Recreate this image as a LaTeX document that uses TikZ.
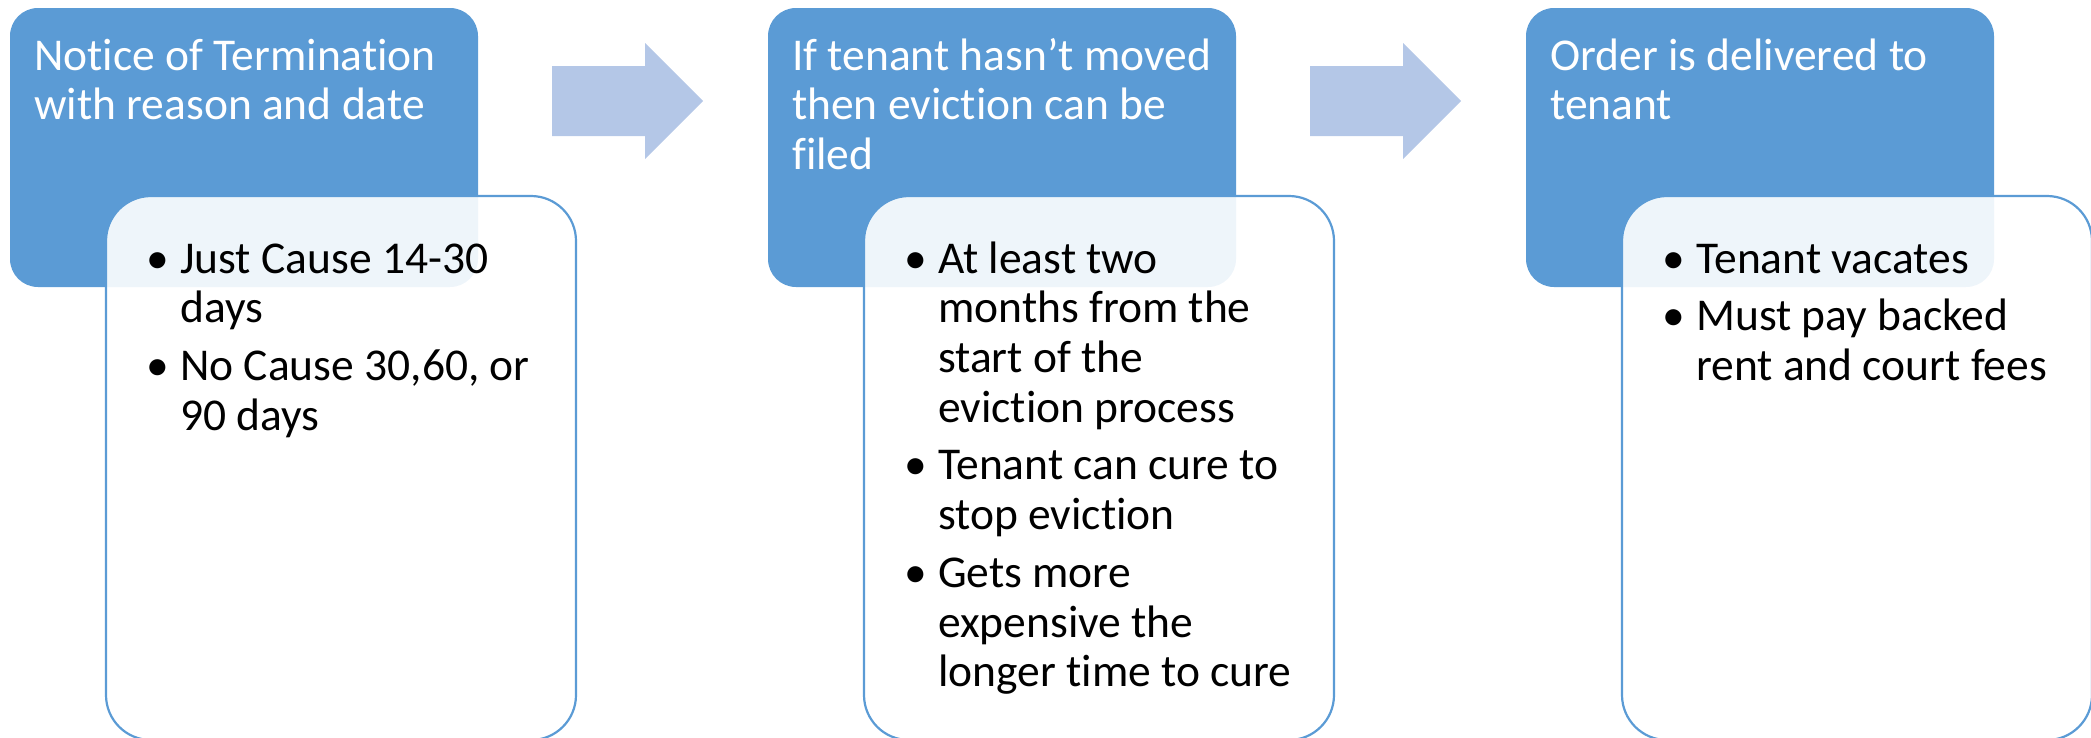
\documentclass[tikz,border=0pt]{standalone}
\usepackage{fontspec}
\setmainfont{Carlito}[Ligatures={NoCommon}]
\definecolor{accblue}{HTML}{5B9BD5}
\definecolor{arrowblue}{HTML}{B4C7E7}
\begin{document}
\begin{tikzpicture}[x=1pt,y=-1pt,
  titlebox/.style={fill=accblue, draw=none, rounded corners=28pt, anchor=north west,
    minimum width=468pt, minimum height=279pt, inner sep=0pt, outer sep=0pt},
  listbox/.style={fill=white, fill opacity=0.9, draw=accblue, draw opacity=1, line width=2.2pt,
    rounded corners=45pt, anchor=north west, minimum width=470pt, minimum height=544pt,
    inner sep=0pt, outer sep=0pt},
  blockarrow/.style={fill=arrowblue, draw=none},
  ttl/.style={anchor=base west, inner sep=0pt, text=white, font=\fontsize{45.5}{49.8}\selectfont},
  itm/.style={anchor=base west, inner sep=0pt, text=black, font=\fontsize{45.5}{49.8}\selectfont},
  bul/.style={anchor=base west, inner sep=0pt, text=black, font=\fontsize{45.5}{49.8}\selectfont},
]
\useasboundingbox (0,0) rectangle (2091,737);
\clip (0,0) rectangle (2091,737);

% ---------- boxes ----------
\node[titlebox] (t1) at (10,8) {};
\node[listbox]  (l1) at (106,196) {};
\node[titlebox] (t2) at (768,8) {};
\node[listbox]  (l2) at (864,196) {};
\node[titlebox] (t3) at (1526,8) {};
\node[listbox]  (l3) at (1622,196) {};

% ---------- block arrows ----------
\coordinate (a1) at (552,101);
\coordinate (a2) at (1310,101);
\fill[blockarrow] (a1) ++(0,-35) -- ++(93,0) -- ++(0,-23) -- ++(58,58) -- ++(-58,58) -- ++(0,-23) -- ++(-93,0) -- cycle;
\fill[blockarrow] (a2) ++(0,-35) -- ++(93,0) -- ++(0,-23) -- ++(58,58) -- ++(-58,58) -- ++(0,-23) -- ++(-93,0) -- cycle;

% ---------- titles ----------
\node[ttl] (t1a) at (34,70) {Notice of Termination};
\node[ttl] (t1b) at (34,119.8) {with reason and date};

\node[ttl] (t2a) at (792,70) {If tenant hasn’t moved};
\node[ttl] (t2b) at (792,119.8) {then eviction can be};
\node[ttl] (t2c) at (792,169.6) {filed};

\node[ttl] (t3a) at (1550,70) {Order is delivered to};
\node[ttl] (t3b) at (1550,119.8) {tenant};

% ---------- list 1 ----------
\node[bul] (b1a) at (146,273) {•};
\node[itm] (i1a) at (180,273) {Just Cause 14-30};
\node[itm] (i1b) at (180,322.8) {days};
\node[bul] (b1b) at (146,380.3) {•};
\node[itm] (i1c) at (180,380.3) {No Cause 30,60, or};
\node[itm] (i1d) at (180,430.1) {90 days};

% ---------- list 2 ----------
\node[bul] (b2a) at (904,273) {•};
\node[itm] (i2a) at (938,273) {At least two};
\node[itm] (i2b) at (938,322.8) {months from the};
\node[itm] (i2c) at (938,372.6) {start of the};
\node[itm] (i2d) at (938,422.4) {eviction process};
\node[bul] (b2b) at (904,479.9) {•};
\node[itm] (i2e) at (938,479.9) {Tenant can cure to};
\node[itm] (i2f) at (938,529.7) {stop eviction};
\node[bul] (b2c) at (904,587.2) {•};
\node[itm] (i2g) at (938,587.2) {Gets more};
\node[itm] (i2h) at (938,637) {expensive the};
\node[itm] (i2i) at (938,686.8) {longer time to cure};

% ---------- list 3 ----------
\node[bul] (b3a) at (1662,273) {•};
\node[itm] (i3a) at (1696,273) {Tenant vacates};
\node[bul] (b3b) at (1662,330.5) {•};
\node[itm] (i3b) at (1696,330.5) {Must pay backed};
\node[itm] (i3c) at (1696,380.3) {rent and court fees};
\end{tikzpicture}
\end{document}
